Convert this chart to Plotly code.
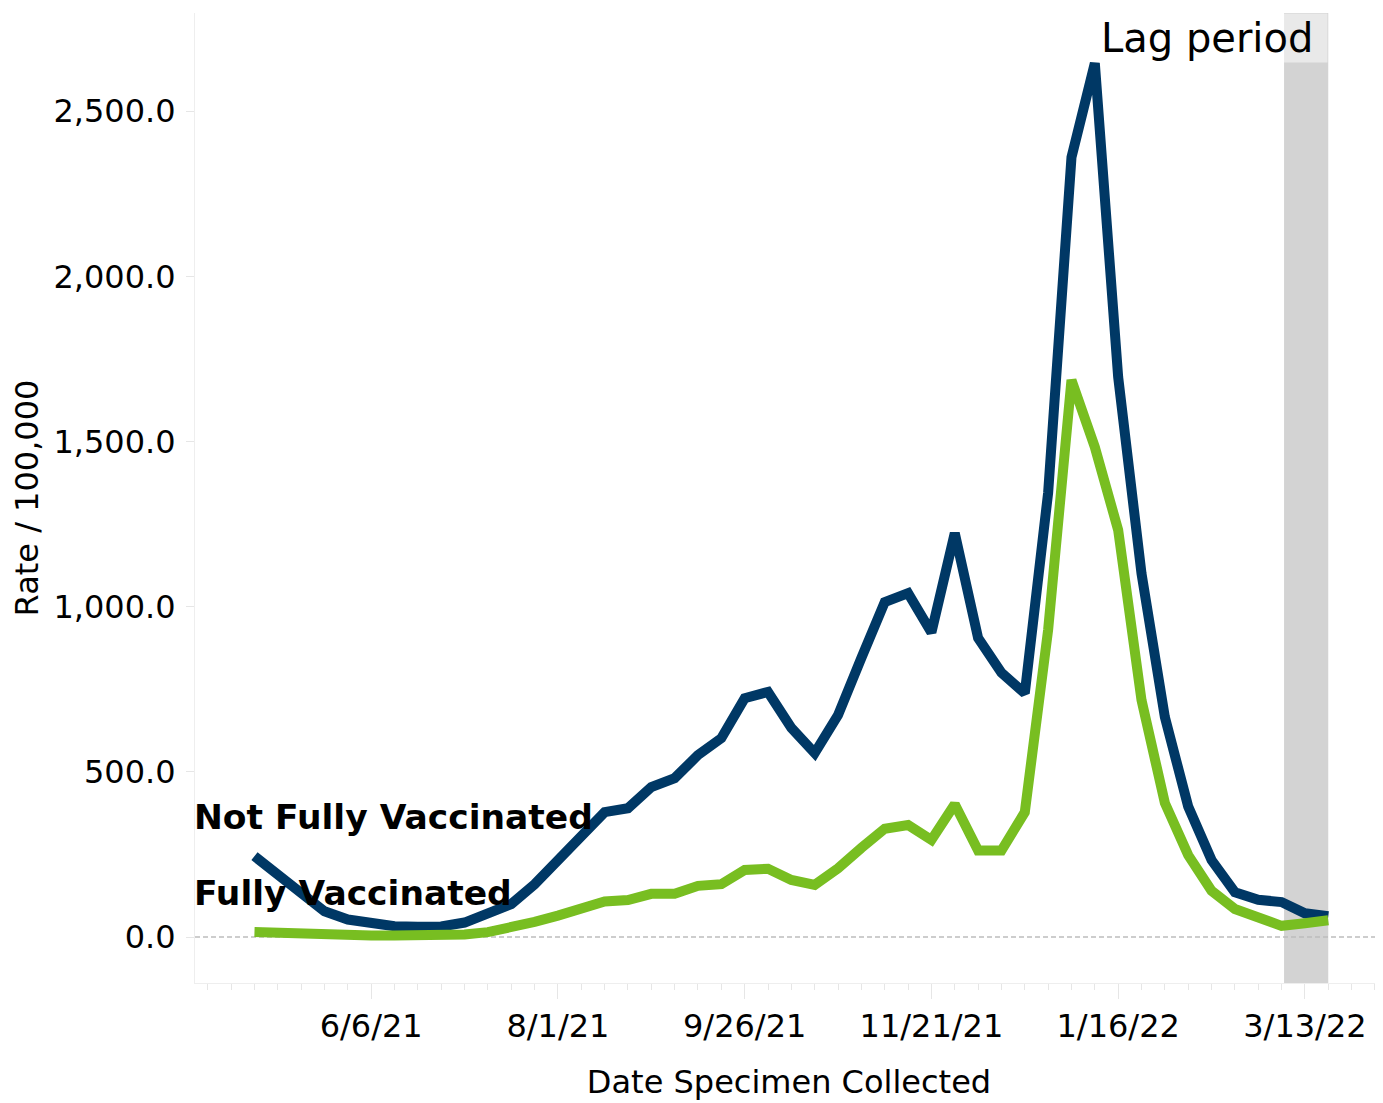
import pandas as pd
import plotly.graph_objects as go

# Weekly dates (week of specimen collection)
dates = pd.date_range("2021-05-02", "2022-03-20", freq="7D")

not_fully_vaccinated = [
    245, 188, 132, 78, 53, 40, 33, 31, 32, 44,
    70, 100, 160, 230, 300, 378, 390, 454, 481, 551,
    602, 723, 742, 633, 557, 672, 845, 1014, 1041, 922,
    1223, 905, 800, 738, 1345, 2360, 2645, 1695, 1100, 666,
    395, 233, 136, 113, 106, 72, 63,
]
fully_vaccinated = [
    15, 12, 10, 7, 6, 5, 5, 5, 6, 8,
    15, 28, 46, 65, 84, 108, 112, 131, 131, 155,
    160, 203, 207, 173, 158, 208, 270, 328, 339, 294,
    402, 262, 262, 378, 930, 1686, 1483, 1232, 717, 406,
    248, 140, 85, 58, 34, 42, 51,
]

series_names = ["Not Fully Vaccinated", "Fully Vaccinated"]
series_colors = ["#003865", "#78BE21"]

y_tickvals = [0, 500, 1000, 1500, 2000, 2500]
x_tick0 = "2021-06-06"
lag_start, lag_end = "2022-03-06 18:00", "2022-03-20"

FONT = "DejaVu Sans"

fig = go.Figure()
for name, vals, col in zip(series_names, [not_fully_vaccinated, fully_vaccinated], series_colors):
    fig.add_trace(go.Scatter(
        x=dates, y=vals, mode="lines", name=name,
        line=dict(color=col, width=10),
        showlegend=False,
    ))

# Lag period band
fig.add_vrect(x0=lag_start, x1=lag_end, fillcolor="#d3d3d3", opacity=1,
              line_width=0, layer="below")

# zero reference line
fig.add_shape(type="line", xref="paper", x0=0, x1=1, yref="y", y0=0, y1=0,
              line=dict(color="#bdbdbd", width=1.5, dash="5px,3px"), layer="below")

# Labels
fig.add_annotation(x=0, xref="paper", xanchor="left", xshift=-3, y=363, yref="y", yanchor="middle",
                   text="<b>Not Fully Vaccinated</b>", showarrow=False,
                   font=dict(family=FONT, size=34.5, color="black"))
fig.add_annotation(x=0, xref="paper", xanchor="left", xshift=-3, y=133, yref="y", yanchor="middle",
                   text="<b>Fully Vaccinated</b>", showarrow=False,
                   font=dict(family=FONT, size=34.5, color="black"))
fig.add_annotation(x=lag_end, xref="x", xanchor="right", y=1, yref="paper", yanchor="top",
                   text="Lag period&nbsp;", showarrow=False, bgcolor="rgba(255,255,255,0.5)",
                   borderpad=1, font=dict(family=FONT, size=40, color="black"))

fig.update_layout(
    width=1375, height=1095, autosize=False,
    margin=dict(l=187, r=0, t=5, b=120),
    paper_bgcolor="white", plot_bgcolor="white",
    font=dict(family=FONT, size=32, color="black"),
    xaxis=dict(
        type="date",
        range=["2021-04-14 04:00", "2022-04-05 10:00"],
        tick0=x_tick0, dtick=56 * 86400000, tickformat="%-m/%-d/%y",
        ticks="outside", ticklen=15, tickcolor="#e6e6e6", tickwidth=1,
        showline=True, linecolor="#eeeeee", linewidth=1,
        showgrid=False, zeroline=False,
        minor=dict(ticks="outside", ticklen=6, tickcolor="#e6e6e6",
                   tick0="2021-05-02", dtick=7 * 86400000, showgrid=False),
        title=dict(text="Date Specimen Collected", font=dict(size=32), standoff=26),
        tickfont=dict(size=32),
    ),
    yaxis=dict(
        range=[-139, 2797],
        tickvals=y_tickvals, tickformat=",.1f",
        ticks="outside", ticklen=8, tickcolor="#e6e6e6",
        showline=True, linecolor="#eeeeee", linewidth=1,
        showgrid=False, zeroline=False,
        ticklabelstandoff=4,
        title=dict(text="Rate / 100,000", font=dict(size=32), standoff=23),
        tickfont=dict(size=32),
    ),
)

fig.write_html("out.html")
